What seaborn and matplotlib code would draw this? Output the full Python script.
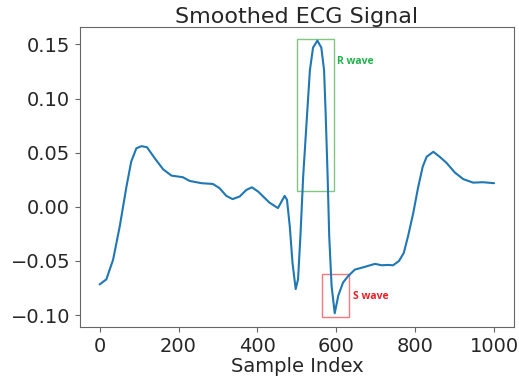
import matplotlib
matplotlib.use('Agg')
import matplotlib.pyplot as plt
import matplotlib.patches as patches
import seaborn as sns
import pandas as pd

# values
sample_idx = [0, 17, 34, 51, 68, 80, 93, 106, 120, 140, 161, 182, 211, 228, 258,
              287, 304, 321, 337, 355, 372, 386, 402, 430, 452, 469, 475, 482, 489,
              497, 503, 509, 516, 526, 533, 541, 552, 562, 569, 573, 578, 582, 588,
              596, 605, 617, 630, 647, 672, 698, 715, 731, 744, 759, 771, 782, 795,
              807, 819, 829, 846, 862, 879, 901, 922, 947, 972, 1000]
ecg_vals = [-0.0717, -0.067, -0.049, -0.018, 0.0187, 0.0417, 0.054, 0.056, 0.055,
            0.0447, 0.0346, 0.0288, 0.0273, 0.0239, 0.0218, 0.0211, 0.0172, 0.0101,
            0.0071, 0.0095, 0.0156, 0.018, 0.014, 0.004, -0.0012, 0.0101, 0.0064,
            -0.018, -0.052, -0.076, -0.067, -0.027, 0.028, 0.086, 0.126, 0.147,
            0.1535, 0.147, 0.126, 0.086, 0.028, -0.027, -0.073, -0.0983, -0.082,
            -0.070, -0.064, -0.058, -0.0555, -0.0527, -0.054, -0.0537, -0.054,
            -0.050, -0.0426, -0.027, -0.0058, 0.0172, 0.037, 0.0462, 0.0508, 0.0462,
            0.0407, 0.0315, 0.0255, 0.0223, 0.0227, 0.0218]

# annotation boxes: (x0, x1, y0, y1)
r_box = (500, 595, 0.015, 0.155)
s_box = (563, 632, -0.102, -0.062)

df = pd.DataFrame({'Sample Index': sample_idx, 'ECG': ecg_vals})

sns.set_style('ticks')
plt.rcParams['axes.edgecolor'] = '#666666'
plt.rcParams['font.family'] = ['DejaVu Sans']

fig = plt.figure(figsize=(5.19, 3.85), dpi=100)
ax = fig.add_axes([0.154, 0.151, 0.836, 0.779])
sns.lineplot(data=df, x='Sample Index', y='ECG', ax=ax, color='#1f77b4', linewidth=1.5)

ax.add_patch(patches.Rectangle((r_box[0], r_box[2]), r_box[1] - r_box[0], r_box[3] - r_box[2],
                               fill=False, edgecolor='#2ca02c', alpha=0.6, linewidth=1))
ax.add_patch(patches.Rectangle((s_box[0], s_box[2]), s_box[1] - s_box[0], s_box[3] - s_box[2],
                               fill=False, edgecolor='#e8202a', alpha=0.6, linewidth=1))
ax.text(603, 0.134, 'R wave', color='#22b14c', fontsize=7.5, fontweight='bold',
        family=['Open Sans', 'DejaVu Sans'], va='center')
ax.text(642, -0.083, 'S wave', color='#e8202a', fontsize=7.5, fontweight='bold',
        family=['Open Sans', 'DejaVu Sans'], va='center')

ax.set_title('Smoothed ECG Signal', fontsize=16, pad=3)
ax.set_xlabel('Sample Index', fontsize=14, labelpad=1)
ax.set_ylabel('')
ax.tick_params(labelsize=14, color='#666666')
ax.set_xticks([0, 200, 400, 600, 800, 1000])
ax.set_yticks([-0.10, -0.05, 0.00, 0.05, 0.10, 0.15])
ax.set_yticklabels(['−0.10', '−0.05', '0.00', '0.05', '0.10', '0.15'])

fig.savefig('out.png', dpi=100)
